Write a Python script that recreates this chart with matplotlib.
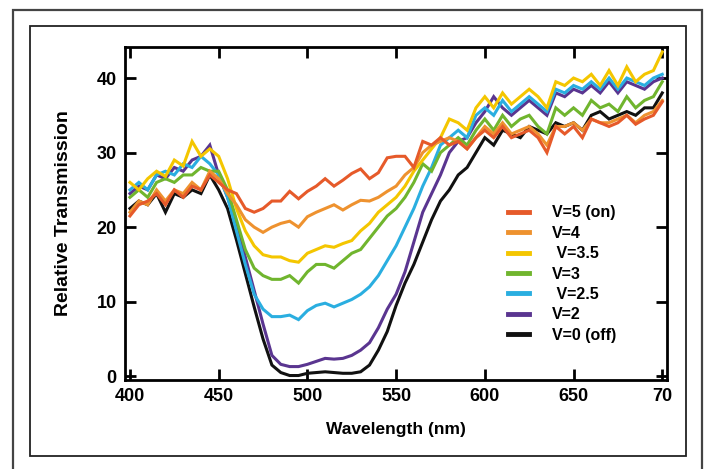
import numpy as np
import matplotlib
matplotlib.use("Agg")
import matplotlib.pyplot as plt
from matplotlib.patches import Rectangle

plt.rcParams['font.family'] = ['Liberation Sans', 'DejaVu Sans']

# wavelength grid (nm), one sample every 5 nm
wavelength = np.arange(400, 701, 5)

# relative transmission for each drive voltage
t_v0 = [22.5, 23.5, 23, 24.5, 22, 24.5, 24, 25, 24.5, 27,
        25, 22.5, 18.3, 13.8, 9.3, 5, 1.5, 0.5, 0.1, 0.1,
        0.4, 0.5, 0.6, 0.5, 0.4, 0.4, 0.6, 1.5, 3.5, 6,
        9.5, 12.5, 15, 18, 21, 23.5, 25, 27, 28, 30,
        32, 31, 33, 32.5, 32, 33.5, 33, 32.5, 34, 33.5,
        34, 33, 35, 35.5, 34.5, 35, 35.5, 35, 36, 36,
        38]
t_v2 = [24.5, 25.5, 25, 27, 26.5, 28, 27.5, 29, 29.5, 31,
        27, 24, 20.5, 16, 11.5, 7, 2.8, 1.6, 1.3, 1.3,
        1.6, 2, 2.4, 2.3, 2.4, 2.8, 3.5, 4.5, 6.5, 9,
        11, 14, 18, 22, 24.5, 27, 30, 31.5, 32, 34,
        35.5, 37.5, 36, 35, 36, 37, 36, 35, 38, 37.5,
        38.5, 38, 39, 38, 39.5, 38, 39.5, 39, 38.5, 39.5,
        40]
t_v25 = [25, 26, 25, 27, 27.5, 27, 28.5, 28, 29.5, 28.5,
         27, 24, 19.5, 15, 11, 9, 8, 8, 8.2, 7.6,
         8.8, 9.5, 9.8, 9.3, 9.8, 10.3, 11, 12, 13.5, 15.5,
         17.5, 20, 22.5, 25.5, 28, 31, 32, 33, 32, 35,
         36, 35, 37, 35.5, 36.5, 37.5, 36.5, 35.5, 38.5, 38,
         39, 38.5, 39.5, 38.5, 40, 38.5, 40, 39.5, 39, 40,
         40.5]
t_v3 = [24, 25, 24, 26, 26.5, 26, 27, 27, 28, 27.5,
        27.5, 25, 21, 17, 14.5, 13.5, 13, 13, 13.5, 12.5,
        14, 15, 15, 14.5, 15.5, 16.5, 17, 18.5, 20, 21.5,
        22.5, 24, 26, 28.5, 27.5, 30, 31, 32, 31, 33,
        34.5, 33, 35, 33.5, 34.5, 35, 33.5, 32.5, 36, 35,
        36, 35, 37, 36, 36.5, 35.5, 37.5, 36, 37, 37.5,
        39.5]
t_v35 = [26, 25, 26.5, 27.5, 26.8, 29, 28.2, 31.5, 29.5, 30.5,
         29.5, 26.5, 22.5, 19.5, 17.5, 16.3, 16, 16, 15.5, 15.3,
         16.5, 17, 17.5, 17.3, 17.8, 18.2, 19.5, 20.5, 22, 23,
         24, 25.5, 27.5, 29, 30.5, 32, 34.5, 34, 33, 36,
         37.5, 36, 38, 36.5, 37.5, 38.5, 37.5, 36, 39.5, 39,
         40, 39.5, 40.5, 39, 41, 39, 41.5, 39.5, 40.5, 41,
         43.5]
t_v4 = [22, 23.5, 23, 25, 23.5, 25, 24.5, 26, 25, 27.5,
        26.5, 24.5, 23, 21, 20, 19.3, 20, 20.5, 20.8, 20,
        21.4, 22, 22.5, 23, 22.3, 23, 23.6, 23.5, 24, 24.8,
        25.5, 27, 28, 30, 31, 31.5, 32, 31.5, 30.5, 32,
        33.5, 32.5, 34, 32.5, 33, 33.5, 32.5, 31, 33.5, 33.5,
        34, 33, 34.5, 34, 34, 34.5, 35, 34, 35, 35.5,
        37]
t_v5 = [21.5, 23, 23.5, 24.5, 23, 25, 24, 25.5, 25, 27,
        26, 25, 24.5, 22.5, 22, 22.5, 23.5, 23.5, 24.8, 23.8,
        24.8, 25.5, 26.5, 25.5, 26.3, 27.2, 27.8, 26.5, 27.3, 29.3,
        29.5, 29.5, 28, 31.5, 31, 32, 31, 31.5, 30.5, 32,
        33, 32, 33.5, 32, 32.5, 33, 32, 30, 33.5, 32.5,
        33.5, 32, 34.5, 34, 33.5, 34, 35, 33.8, 34.5, 35,
        36.8]

labels = ["V=5 (on)", "V=4", " V=3.5", "V=3", " V=2.5", "V=2", "V=0 (off)"]
series = [t_v5, t_v4, t_v35, t_v3, t_v25, t_v2, t_v0]
colors = ["#e65a2a", "#ee922f", "#f4c600", "#70b52e", "#2aaee0", "#5a3590", "#111111"]

fig = plt.figure(figsize=(7.06, 4.69), dpi=100)

# double frame around the whole figure
W, H = 706, 469
def px_rect(x0, y0, x1, y1, lw, color):
    fig.patches.append(Rectangle((x0 / W, 1 - y1 / H), (x1 - x0) / W, (y1 - y0) / H,
                                 transform=fig.transFigure, fill=False,
                                 lw=lw, edgecolor=color, zorder=0))
px_rect(13, 10, 702, 480, 1.6, "#444444")
px_rect(30, 26, 686, 456, 1.3, "#222222")

ax = fig.add_axes([125 / W, 1 - 380 / H, (666.7 - 125) / W, (380 - 46.7) / H])

handles = {}
# draw from V=0 upward so the high-voltage curves sit on top
for lab, vals, col in reversed(list(zip(labels, series, colors))):
    line, = ax.plot(wavelength, vals, color=col, lw=2.2, solid_joinstyle='miter')
    handles[lab] = line

ax.set_xlim(397.2, 702.5)
ax.set_ylim(-0.5, 44.2)
ax.set_xticks([400, 450, 500, 550, 600, 650, 700])
ax.set_xticklabels(["400", "450", "500", "550", "600", "650", "70"])
ax.set_yticks([0, 10, 20, 30, 40])

for s in ax.spines.values():
    s.set_linewidth(2)
ax.tick_params(direction='in', length=8, width=2, top=True, right=True,
               labelsize=13, pad=6)
for t in ax.get_xticklabels() + ax.get_yticklabels():
    t.set_fontweight('bold')

ax.set_xlabel("Wavelength (nm)", fontsize=12.5, fontweight='bold', labelpad=12)
ax.set_ylabel("Relative Transmission", fontsize=14, fontweight='bold', labelpad=18)

leg = ax.legend([handles[l] for l in labels], labels, loc='upper left',
                bbox_to_anchor=(0.692, 0.548), frameon=False,
                prop={'size': 11.5, 'weight': 'bold'},
                handlelength=1.3, handletextpad=1.45, labelspacing=0.34,
                borderpad=0)
for ln in leg.get_lines():
    ln.set_linewidth(3.5)

fig.savefig("out.png", dpi=100)
